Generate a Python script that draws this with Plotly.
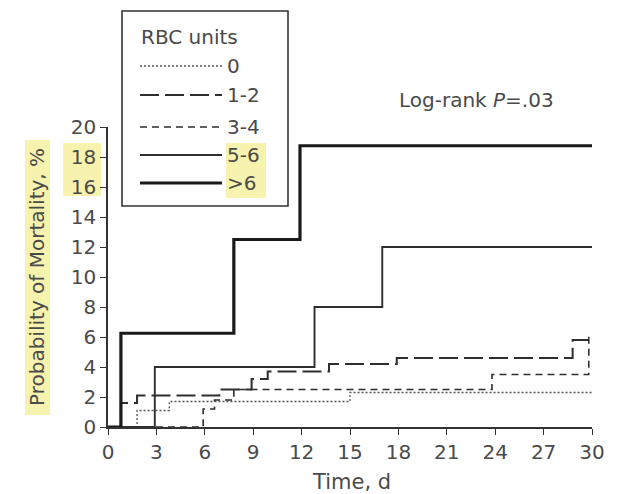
import plotly.graph_objects as go

# Cumulative mortality (%) by number of RBC units transfused, step curves
groups = ["0", "1-2", "3-4", "5-6", ">6"]

days_0 = [0, 1.8, 3.8, 15.0, 30]
mort_0 = [0, 1.1, 1.7, 2.3, 2.3]

days_1_2 = [0, 0.8, 1.8, 6.9, 8.9, 9.9, 13.7, 17.9, 28.8, 29.8]
mort_1_2 = [0, 1.6, 2.1, 2.5, 3.2, 3.7, 4.2, 4.6, 5.8, 5.8]

days_3_4 = [0, 5.9, 6.6, 7.8, 23.8, 29.8]
mort_3_4 = [0, 1.2, 1.8, 2.5, 3.5, 6.2]

days_5_6 = [0, 2.9, 12.8, 17.0, 30]
mort_5_6 = [0, 4.0, 8.0, 12.0, 12.0]

days_gt6 = [0, 0.8, 7.8, 11.9, 30]
mort_gt6 = [0, 6.25, 12.5, 18.75, 18.75]

x_ticks = [0, 3, 6, 9, 12, 15, 18, 21, 24, 27, 30]
y_ticks = [0, 2, 4, 6, 8, 10, 12, 14, 16, 18, 20]

series = [
    (days_0, mort_0),
    (days_1_2, mort_1_2),
    (days_3_4, mort_3_4),
    (days_5_6, mort_5_6),
    (days_gt6, mort_gt6),
]
styles = [
    dict(color="#555555", width=1.3, dash="2px,2px"),
    dict(color="#2e2e2e", width=2.0, dash="19px,6px"),
    dict(color="#2e2e2e", width=1.6, dash="7px,5px"),
    dict(color="#2e2e2e", width=1.9, dash="solid"),
    dict(color="#1a1a1a", width=3.2, dash="solid"),
]

FONT = "DejaVu Sans"
TXT = "#4a4a4a"

# plot-area geometry in pixels
L, R, T, B = 108, 31, 127, 67
W, H = 623, 494
PW, PH = W - L - R, H - T - B


def px_x(p):
    return (p - L) / PW


def px_y(p):
    return (H - B - p) / PH


fig = go.Figure()
for name, (t, v), st in zip(groups, series, styles):
    fig.add_trace(go.Scatter(
        x=t, y=v, mode="lines", name=name, line_shape="hv",
        line=st, showlegend=False, hoverinfo="skip",
    ))

shapes = []
annotations = []
hl = "rgba(246,241,160,0.85)"

# soft yellow highlights behind the axis title and two tick labels
for x0, x1, y0, y1 in [(25, 50, 140, 415), (63, 101, 143, 196)]:
    shapes.append(dict(type="rect", xref="paper", yref="paper",
                       x0=px_x(x0), x1=px_x(x1), y0=px_y(y1), y1=px_y(y0),
                       fillcolor=hl, line=dict(width=0), layer="below"))

# legend box
shapes.append(dict(type="rect", xref="paper", yref="paper",
                   x0=px_x(122), x1=px_x(288), y0=px_y(206), y1=px_y(11),
                   fillcolor="white", line=dict(color="#333333", width=1.6),
                   layer="above"))
# highlight behind the last two legend labels
shapes.append(dict(type="rect", xref="paper", yref="paper",
                   x0=px_x(226), x1=px_x(266), y0=px_y(198), y1=px_y(143),
                   fillcolor=hl, line=dict(width=0), layer="above"))

annotations.append(dict(x=px_x(139), y=px_y(37), xref="paper", yref="paper",
                        text="RBC units", showarrow=False, xanchor="left",
                        yanchor="middle", font=dict(family=FONT, size=20, color=TXT)))
row_y = [66, 95, 127, 155, 183]
for name, st, ry in zip(groups, styles, row_y):
    shapes.append(dict(type="line", xref="paper", yref="paper",
                       x0=px_x(140), x1=px_x(222), y0=px_y(ry), y1=px_y(ry),
                       line=st, layer="above"))
    annotations.append(dict(x=px_x(225), y=px_y(ry), xref="paper", yref="paper",
                            text=name.replace(">", "&gt;"), showarrow=False,
                            xanchor="left", yanchor="middle",
                            font=dict(family=FONT, size=20, color=TXT)))

# test statistic
annotations.append(dict(x=px_x(476), y=px_y(100), xref="paper", yref="paper",
                        text="Log-rank <i>P</i>=.03", showarrow=False,
                        xanchor="center", yanchor="middle",
                        font=dict(family=FONT, size=20, color=TXT)))

# axis titles
annotations.append(dict(x=px_x(37), y=px_y(277), xref="paper", yref="paper",
                        text="Probability of Mortality, %", showarrow=False,
                        textangle=-90, xanchor="center", yanchor="middle",
                        font=dict(family=FONT, size=20, color=TXT)))
annotations.append(dict(x=px_x(351), y=px_y(482), xref="paper", yref="paper",
                        text="Time, d", showarrow=False,
                        xanchor="center", yanchor="middle",
                        font=dict(family=FONT, size=21, color=TXT)))

axis_common = dict(
    showgrid=False, zeroline=False, showline=True, linecolor="#333333",
    linewidth=1.6, ticks="outside", ticklen=6, tickwidth=1.4,
    tickcolor="#333333", tickfont=dict(family=FONT, size=20, color=TXT),
    fixedrange=True,
)

fig.update_layout(
    width=W, height=H,
    margin=dict(l=L, r=R, t=T, b=B, pad=0),
    paper_bgcolor="white", plot_bgcolor="white",
    xaxis=dict(range=[0, 30], tickvals=x_ticks, ticktext=[str(v) for v in x_ticks],
               **axis_common),
    yaxis=dict(range=[0, 20], tickvals=y_ticks, ticktext=[str(v) for v in y_ticks],
               **axis_common),
    shapes=shapes,
    annotations=annotations,
    showlegend=False,
)

fig.write_html("out.html")
